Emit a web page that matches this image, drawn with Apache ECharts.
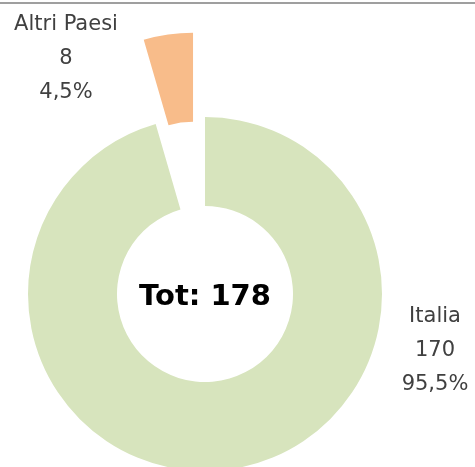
<!DOCTYPE html>
<html>
<head>
<meta charset="utf-8">
<script src="https://cdn.jsdelivr.net/npm/echarts@6/dist/echarts.min.js"></script>
<style>
  html, body { margin: 0; padding: 0; background: #fff; }
  #chart { width: 475px; height: 467px; }
</style>
</head>
<body>
<div id="chart"></div>
<script>
const categories = ["Italia", "Altri Paesi"];
const values = [170, 8];
const colors = ["#D7E4BD", "#F8BC8A"];

const total = values.reduce((a, b) => a + b, 0);
const pct = (v) => ((v / total) * 100).toFixed(1).replace(".", ",") + "%";
// posizione delle etichette (come nel grafico originale)
const labelPos = [
  [435, 351],
  [66, 59],
];

const chart = echarts.init(document.getElementById("chart"));

const labels = categories.map((name, i) => ({
  type: "text",
  x: labelPos[i][0],
  y: labelPos[i][1],
  style: {
    text: name + "\n" + values[i] + "\n" + pct(values[i]),
    textAlign: "center",
    textVerticalAlign: "middle",
    font: "21px 'DejaVu Sans'",
    lineHeight: 34,
    fill: "#404040",
  },
}));

const option = {
  animation: false,
  graphic: [
    {
      // bordo superiore del riquadro
      type: "line",
      shape: { x1: 0, y1: 3, x2: 475, y2: 3 },
      style: { stroke: "#7f7f7f", lineWidth: 1.5 },
    },
    {
      type: "text",
      x: 205,
      y: 297,
      style: {
        text: "Tot: " + total,
        textAlign: "center",
        textVerticalAlign: "middle",
        font: "bold 29px 'DejaVu Sans'",
        fill: "#000",
      },
    },
    ...labels,
  ],
  series: [
    {
      type: "pie",
      center: [205, 294],
      radius: [88, 177],
      startAngle: 90,
      clockwise: true,
      selectedMode: "single",
      selectedOffset: 85,
      emphasis: { disabled: true },
      label: { show: false },
      labelLine: { show: false },
      data: categories.map((name, i) => ({
        name: name,
        value: values[i],
        selected: i === 1,
        itemStyle: { color: colors[i] },
        select: { itemStyle: { color: colors[i] } },
      })),
    },
  ],
};
chart.setOption(option);
</script>
</body>
</html>
